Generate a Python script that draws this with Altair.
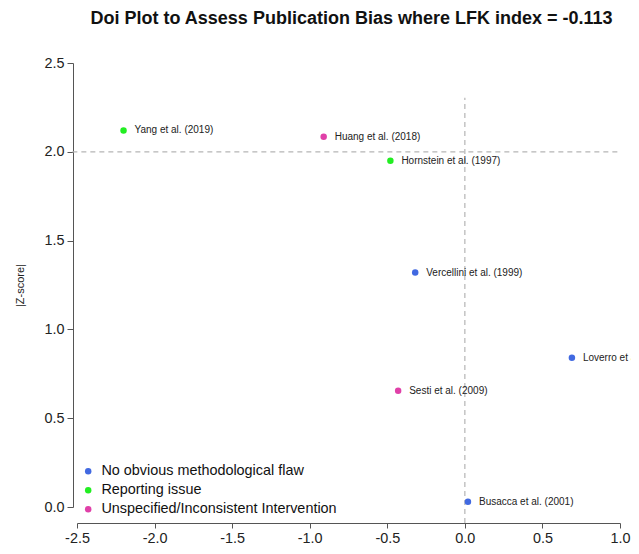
import altair as alt
import pandas as pd

# ---- data ----
studies = [
    "Yang et al. (2019)",
    "Huang et al. (2018)",
    "Hornstein et al. (1997)",
    "Vercellini et al. (1999)",
    "Loverro et al. (2008)",
    "Sesti et al. (2009)",
    "Busacca et al. (2001)",
]
lfk_x = [-2.20, -0.91, -0.48, -0.32, 0.69, -0.43, 0.02]
z_abs = [2.12, 2.085, 1.95, 1.32, 0.84, 0.655, 0.03]
quality = [
    "Reporting issue",
    "Unspecified/Inconsistent Intervention",
    "Reporting issue",
    "No obvious methodological flaw",
    "No obvious methodological flaw",
    "Unspecified/Inconsistent Intervention",
    "No obvious methodological flaw",
]
categories = [
    "No obvious methodological flaw",
    "Reporting issue",
    "Unspecified/Inconsistent Intervention",
]
colors = ["#4169E1", "#22EE22", "#E040A8"]

x_ticks = [-2.5, -2.0, -1.5, -1.0, -0.5, 0.0, 0.5, 1.0]
y_ticks = [0.0, 0.5, 1.0, 1.5, 2.0, 2.5]

# reference lines (|Z| = 2 horizontal, x = 0 vertical)
h_ref = pd.DataFrame({"x": [-2.53], "x2": [1.0], "y": [2.0]})
v_ref = pd.DataFrame({"x": [0.0], "y": [-0.09], "y2": [2.305]})

df = pd.DataFrame({"study": studies, "x": lfk_x, "z": z_abs, "q": quality})

FONT = "Liberation Sans"
HYPHEN = "replace(format(datum.value, '.1f'), '\u2212', '-')"

xs = alt.Scale(domain=[-2.5, 1.0], nice=False, zero=False)
ys = alt.Scale(domain=[0.0, 2.5], nice=False, zero=False)

x_axis = alt.Axis(
    values=x_ticks, labelExpr=HYPHEN, title=None, grid=False, offset=16,
    tickSize=5, labelPadding=3, labelFontSize=14.4, labelFont=FONT,
    labelColor="#222", domainColor="#555", tickColor="#555",
    labelFlush=False,
)
y_axis = alt.Axis(
    values=y_ticks, labelExpr=HYPHEN, title="|Z-score|", grid=False, offset=4,
    tickSize=6, labelPadding=3, labelFontSize=14.4, labelFont=FONT,
    labelColor="#222", domainColor="#555", tickColor="#555",
    titleFont=FONT, titleFontSize=11, titleFontWeight="normal",
    titleColor="#222", titlePadding=18, labelFlush=False,
)

hline = alt.Chart(h_ref).mark_rule(
    color="#b5b5b5", strokeDash=[5, 4], strokeWidth=1.2
).encode(
    x=alt.X("x:Q", scale=xs, axis=x_axis),
    x2="x2:Q",
    y=alt.Y("y:Q", scale=ys, axis=y_axis),
)

vline = alt.Chart(v_ref).mark_rule(
    color="#b5b5b5", strokeDash=[5, 4], strokeWidth=1.2
).encode(
    x=alt.X("x:Q", scale=xs),
    y=alt.Y("y:Q", scale=ys),
    y2="y2:Q",
)

points = alt.Chart(df).mark_circle(size=42, opacity=1).encode(
    x=alt.X("x:Q", scale=xs),
    y=alt.Y("z:Q", scale=ys),
    color=alt.Color(
        "q:N",
        scale=alt.Scale(domain=categories, range=colors),
        legend=alt.Legend(
            title=None, orient="none", legendX=4, legendY=401,
            symbolType="circle", symbolSize=42, symbolStrokeWidth=0,
            labelFontSize=14.4, labelFont=FONT, labelColor="#111",
            labelOffset=6, rowPadding=4, padding=0, labelLimit=0,
        ),
    ),
)

labels = alt.Chart(df).mark_text(
    align="left", baseline="middle", dx=11, fontSize=10, font=FONT, color="#222"
).encode(
    x=alt.X("x:Q", scale=xs),
    y=alt.Y("z:Q", scale=ys),
    text="study:N",
)

chart = alt.layer(hline, vline, points, labels).properties(
    width=543,
    height=444,
    autosize=alt.AutoSizeParams(type="none"),
    padding={"left": 69, "top": 55, "right": 11, "bottom": 37},
    title=alt.TitleParams(
        "Doi Plot to Assess Publication Bias where LFK index = -0.113",
        font=FONT, fontSize=18, fontWeight="bold", color="#111",
        anchor="middle", offset=27, dx=3,
    ),
).configure_view(stroke=None)

chart.save("out.html", embed_options={"renderer": "svg", "actions": False})
